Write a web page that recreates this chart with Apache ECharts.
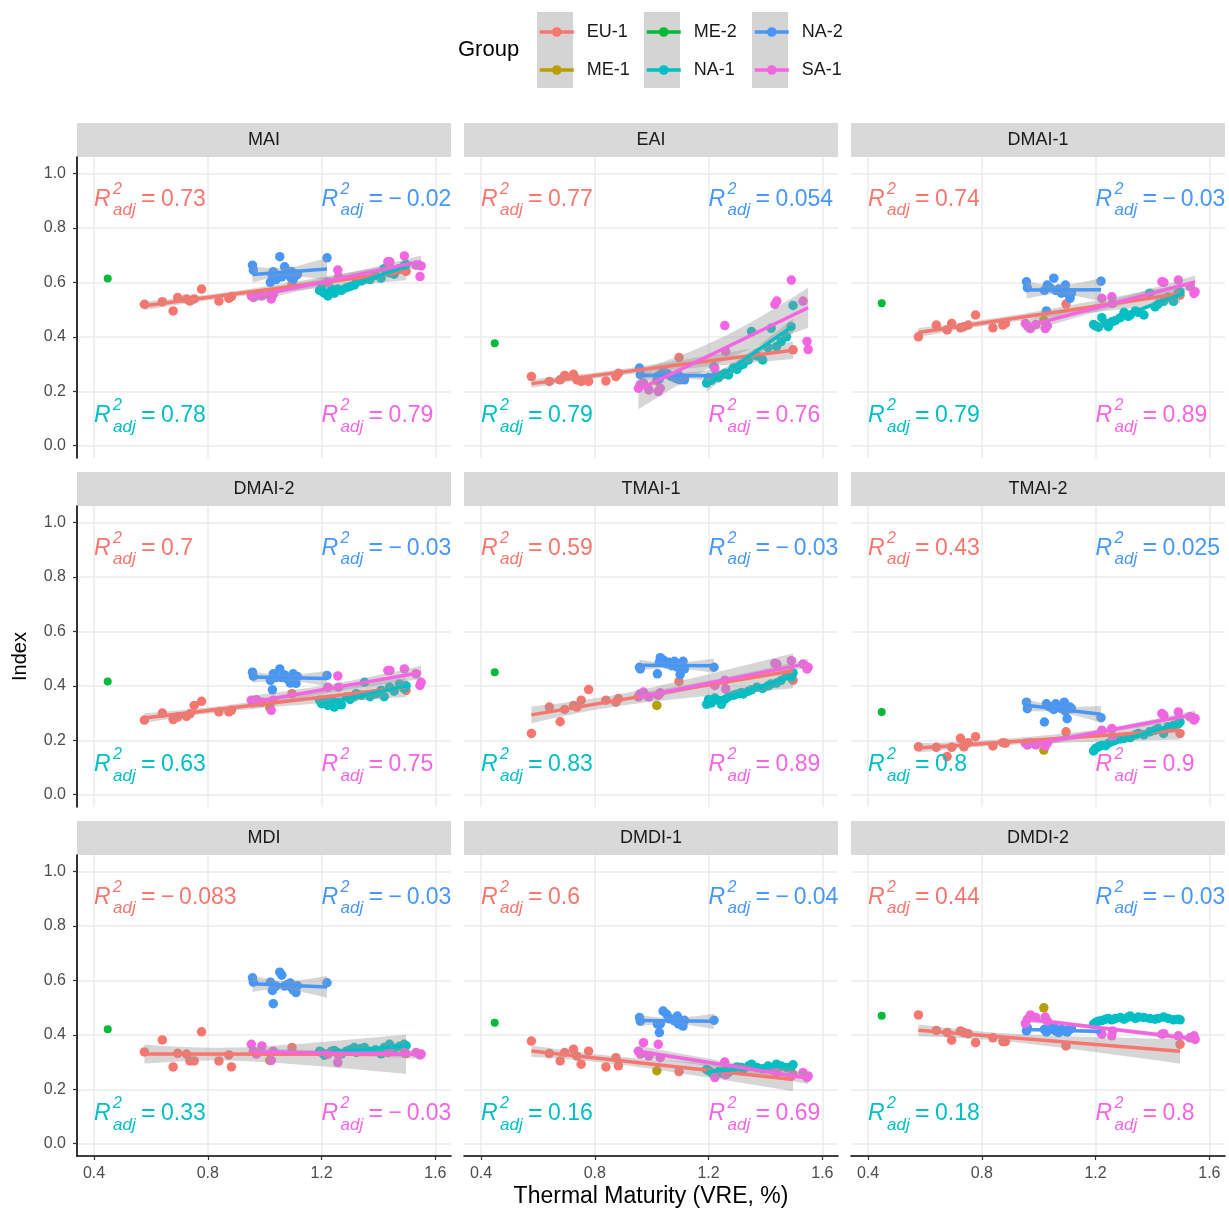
<!DOCTYPE html>
<html><head><meta charset="utf-8">
<script src="https://cdn.jsdelivr.net/npm/echarts@6/dist/echarts.min.js"></script>
<style>html,body{margin:0;padding:0;background:#fff}#c{width:1229px;height:1213px}</style>
</head><body><div id="c"></div>
<script>
// ---------------- DATA ----------------
const panels = ['MAI','EAI','DMAI-1','DMAI-2','TMAI-1','TMAI-2','MDI','DMDI-1','DMDI-2'];
const groups = ['EU-1','ME-1','ME-2','NA-1','NA-2','SA-1'];
const xTicks = [0.4,0.8,1.2,1.6];
const yTicks = [0,0.2,0.4,0.6,0.8,1.0];

const euX = [0.577,0.64,0.678,0.694,0.725,0.737,0.752,0.778,0.839,0.874,0.883,1.096,1.497];
const euY = [
 [0.519,0.529,0.495,0.544,0.539,0.531,0.539,0.575,0.531,0.541,0.547,0.595,0.64],
 [0.254,0.236,0.242,0.258,0.262,0.242,0.236,0.236,0.238,0.254,0.266,0.324,0.352],
 [0.40,0.443,0.425,0.449,0.433,0.437,0.443,0.48,0.433,0.443,0.449,0.52,0.553],
 [0.274,0.30,0.276,0.285,0.288,0.297,0.328,0.343,0.304,0.304,0.31,0.371,0.383],
 [0.225,0.322,0.268,0.313,0.328,0.322,0.347,0.386,0.347,0.34,0.353,0.416,0.42],
 [0.176,0.174,0.14,0.174,0.207,0.176,0.191,0.213,0.179,0.191,0.189,0.231,0.225],
 [0.337,0.381,0.282,0.332,0.329,0.304,0.304,0.411,0.304,0.326,0.282,0.353,0.331],
 [0.377,0.331,0.304,0.335,0.347,0.322,0.292,0.34,0.282,0.316,0.286,0.265,0.255],
 [0.473,0.416,0.408,0.38,0.414,0.408,0.404,0.371,0.389,0.375,0.375,0.359,0.365]
];
const me1X = [1.018];
const me1Y = [0.553,0.24,0.46,0.32,0.328,0.164,0.306,0.268,0.499];
const me2X = [0.448];
const me2Y = [0.614,0.376,0.523,0.416,0.45,0.304,0.42,0.444,0.47];

const na1X = [1.193,1.20,1.21,1.222,1.235,1.245,1.257,1.27,1.287,1.30,1.315,1.322,1.34,1.351,1.37,1.39,1.409,1.42,1.439,1.455,1.474,1.49,1.497];
const na1Y = [
 [0.57,0.58,0.56,0.55,0.575,0.56,0.575,0.57,0.58,0.585,0.59,0.60,0.605,0.61,0.61,0.625,0.615,0.65,0.635,0.63,0.65,0.66,0.665],
 [0.23,0.25,0.24,0.255,0.25,0.26,0.266,0.26,0.285,0.28,0.297,0.30,0.315,0.419,0.33,0.315,0.36,0.431,0.364,0.382,0.40,0.437,0.515],
 [0.445,0.44,0.435,0.47,0.45,0.437,0.455,0.46,0.47,0.49,0.475,0.48,0.495,0.49,0.48,0.56,0.51,0.52,0.53,0.545,0.53,0.56,0.565],
 [0.347,0.334,0.34,0.328,0.35,0.322,0.34,0.33,0.359,0.35,0.36,0.371,0.365,0.413,0.36,0.37,0.383,0.36,0.395,0.38,0.407,0.39,0.40],
 [0.332,0.35,0.337,0.355,0.347,0.332,0.35,0.36,0.365,0.37,0.375,0.37,0.38,0.385,0.395,0.39,0.40,0.407,0.41,0.42,0.438,0.43,0.447],
 [0.161,0.17,0.176,0.182,0.18,0.189,0.195,0.20,0.205,0.207,0.213,0.21,0.22,0.225,0.22,0.231,0.237,0.243,0.225,0.25,0.255,0.26,0.267],
 [0.34,0.335,0.325,0.33,0.34,0.342,0.335,0.33,0.34,0.345,0.353,0.335,0.35,0.353,0.34,0.345,0.33,0.353,0.365,0.35,0.358,0.365,0.36],
 [0.273,0.268,0.262,0.255,0.265,0.26,0.27,0.262,0.275,0.282,0.28,0.273,0.285,0.292,0.28,0.275,0.285,0.28,0.292,0.285,0.28,0.282,0.29],
 [0.439,0.445,0.45,0.452,0.457,0.46,0.455,0.46,0.463,0.457,0.465,0.469,0.46,0.465,0.463,0.46,0.457,0.46,0.465,0.46,0.455,0.457,0.455]
];
const na2X = [0.957,0.96,1.02,1.027,1.03,1.04,1.053,1.06,1.07,1.08,1.09,1.094,1.10,1.11,1.115,1.219];
const na2Y = [
 [0.663,0.645,0.60,0.62,0.639,0.61,0.694,0.62,0.657,0.63,0.62,0.64,0.61,0.625,0.63,0.69],
 [0.285,0.261,0.254,0.245,0.26,0.272,0.265,0.26,0.254,0.25,0.245,0.26,0.242,0.248,0.242,0.29],
 [0.602,0.58,0.57,0.495,0.59,0.58,0.615,0.57,0.575,0.56,0.565,0.59,0.56,0.541,0.56,0.604],
 [0.45,0.435,0.42,0.385,0.444,0.43,0.462,0.43,0.44,0.425,0.41,0.42,0.444,0.409,0.434,0.438],
 [0.468,0.462,0.444,0.486,0.503,0.495,0.48,0.486,0.474,0.49,0.468,0.48,0.441,0.49,0.462,0.468],
 [0.34,0.316,0.267,0.334,0.328,0.322,0.313,0.334,0.322,0.316,0.34,0.307,0.279,0.322,0.316,0.283],
 [0.609,0.593,0.593,0.563,0.514,0.579,0.63,0.619,0.579,0.585,0.59,0.575,0.565,0.555,0.58,0.591],
 [0.463,0.45,0.439,0.408,0.44,0.487,0.475,0.46,0.457,0.451,0.469,0.44,0.439,0.432,0.453,0.453],
 [0.414,0.425,0.42,0.41,0.414,0.42,0.43,0.414,0.408,0.42,0.414,0.416,0.41,0.42,0.425,0.408]
];
const sa1X = [0.953,0.96,0.971,0.99,1.023,1.03,1.222,1.257,1.26,1.433,1.44,1.491,1.532,1.546,1.55];
const sa1Y = [
 [0.55,0.545,0.553,0.55,0.539,0.555,0.60,0.645,0.62,0.675,0.675,0.697,0.663,0.621,0.66],
 [0.211,0.224,0.230,0.205,0.199,0.211,0.285,0.441,0.346,0.519,0.531,0.608,0.531,0.383,0.353],
 [0.449,0.44,0.43,0.445,0.43,0.44,0.541,0.547,0.523,0.602,0.60,0.608,0.584,0.559,0.565],
 [0.347,0.34,0.349,0.34,0.31,0.347,0.395,0.436,0.395,0.456,0.456,0.462,0.444,0.401,0.413],
 [0.359,0.371,0.377,0.359,0.365,0.374,0.401,0.42,0.389,0.482,0.48,0.492,0.48,0.462,0.468],
 [0.189,0.183,0.191,0.183,0.179,0.189,0.237,0.243,0.213,0.298,0.292,0.304,0.286,0.274,0.28],
 [0.365,0.34,0.329,0.359,0.306,0.34,0.329,0.298,0.324,0.335,0.34,0.335,0.335,0.326,0.329],
 [0.34,0.329,0.371,0.322,0.365,0.316,0.243,0.3,0.253,0.268,0.26,0.249,0.261,0.243,0.249],
 [0.441,0.457,0.473,0.463,0.465,0.451,0.402,0.396,0.414,0.402,0.404,0.396,0.389,0.396,0.383]
];
// adjusted R² labels per panel
const r2EU1 = ['0.73','0.77','0.74','0.7','0.59','0.43','\u22120.083','0.6','0.44'];
const r2NA2 = ['\u22120.02','0.054','\u22120.03','\u22120.03','\u22120.03','0.025','\u22120.03','\u22120.04','\u22120.03'];
const r2NA1 = ['0.78','0.79','0.79','0.63','0.83','0.8','0.33','0.16','0.18'];
const r2SA1 = ['0.79','0.76','0.89','0.75','0.89','0.9','\u22120.03','0.69','0.8'];

// ---------------- STYLE / LAYOUT ----------------
const colors = {'EU-1':'#F8766D','ME-1':'#B79F00','ME-2':'#00BA38','NA-1':'#00BFC4','NA-2':'#4697F8','SA-1':'#F564E3'};
const FONT = '"Liberation Sans", Arial, sans-serif';
const colLeft = [77, 464, 851];
const panelW = 374;
const rowTop = [157, 506, 855];
const panelH = 301;
const stripH = 34;
const X_MIN = 0.34, X_MAX = 1.655, Y_MIN = -0.045, Y_MAX = 1.06;
const annoPos = [[0.4,0.905],[1.2,0.905],[0.4,0.11],[1.2,0.11]]; // EU-1, NA-2, NA-1, SA-1

const groupData = {
  'EU-1': {x: euX, y: euY},
  'ME-1': {x: me1X, y: me1Y.map(v=>[v])},
  'ME-2': {x: me2X, y: me2Y.map(v=>[v])},
  'NA-1': {x: na1X, y: na1Y},
  'NA-2': {x: na2X, y: na2Y},
  'SA-1': {x: sa1X, y: sa1Y}
};
const fitGroups = ['EU-1','NA-1','NA-2','SA-1'];

function tq(df){ return 1.96 + 2.37/df + 2.8/(df*df); }
function lmFit(xs, ys){
  const n = xs.length;
  const mx = xs.reduce((a,b)=>a+b,0)/n, my = ys.reduce((a,b)=>a+b,0)/n;
  let sxx=0, sxy=0;
  for(let i=0;i<n;i++){ sxx+=(xs[i]-mx)**2; sxy+=(xs[i]-mx)*(ys[i]-my); }
  const b = sxy/sxx, a = my - b*mx;
  let sse=0; for(let i=0;i<n;i++){ sse+=(ys[i]-a-b*xs[i])**2; }
  const s = Math.sqrt(sse/(n-2));
  const xmin = Math.min(...xs), xmax = Math.max(...xs);
  const t = tq(n-2);
  const band = [];
  const N = 40;
  for(let k=0;k<=N;k++){
    const x = xmin + (xmax-xmin)*k/N;
    const f = a + b*x;
    const se = s*Math.sqrt(1/n + (x-mx)**2/sxx);
    band.push([x, f - t*se, f + t*se]);
  }
  return {line: [[xmin, a+b*xmin],[xmax, a+b*xmax]], band};
}

const grids=[], xAxes=[], yAxes=[], series=[], graphics=[];

// legend series first (empty; they only supply legend glyphs)
groups.forEach(g=>{
  series.push({type:'line', name:g, data:[], xAxisIndex:0, yAxisIndex:0,
    symbol:'circle', symbolSize:9, itemStyle:{color:colors[g]}, lineStyle:{color:colors[g], width:3.5}});
});

panels.forEach((p, i)=>{
  const r = Math.floor(i/3), c = i%3;
  grids.push({left: colLeft[c], top: rowTop[r], width: panelW, height: panelH, containLabel:false});
  const bottomRow = r===2, leftCol = c===0;
  xAxes.push({type:'value', gridIndex:i, min:X_MIN, max:X_MAX,
    axisLine:{show:bottomRow, onZero:false, lineStyle:{color:'#000', width:1.6}},
    axisTick:{show:bottomRow, customValues:xTicks, length:4, lineStyle:{color:'#333', width:1.2}},
    axisLabel:{show:bottomRow, customValues:xTicks, margin:10, color:'#4D4D4D', fontSize:16, fontFamily:FONT,
      formatter:v=>v.toFixed(1)},
    splitLine:{show:true, lineStyle:{color:'#EBEBEB', width:1.5}},
    name: i===7 ? 'Thermal Maturity (VRE, %)' : '', nameLocation:'middle', nameGap:29,
    nameTextStyle:{fontSize:23, color:'#000', fontFamily:FONT}
  });
  yAxes.push({type:'value', gridIndex:i, min:Y_MIN, max:Y_MAX,
    axisLine:{show:leftCol, onZero:false, lineStyle:{color:'#000', width:1.6}},
    axisTick:{show:leftCol, customValues:yTicks, length:4, lineStyle:{color:'#333', width:1.2}},
    axisLabel:{show:leftCol, customValues:yTicks, margin:11, color:'#4D4D4D', fontSize:16, fontFamily:FONT,
      formatter:v=>v.toFixed(1)},
    splitLine:{show:true, lineStyle:{color:'#EBEBEB', width:1.5}},
    name: i===3 ? 'Index' : '', nameLocation:'middle', nameGap:47,
    nameTextStyle:{fontSize:20, color:'#000', fontFamily:FONT}
  });
  // strip
  graphics.push({type:'rect', left: colLeft[c], top: rowTop[r]-stripH, shape:{width:panelW, height:stripH},
    style:{fill:'#D9D9D9'}, silent:true});
  graphics.push({type:'text', x: colLeft[c]+panelW/2, y: rowTop[r]-stripH/2, silent:true,
    style:{text:p, fill:'#1A1A1A', font:'18px '+FONT, align:'center', verticalAlign:'middle', textAlign:'center', textVerticalAlign:'middle'}});

  // points
  groups.forEach(g=>{
    const gd = groupData[g];
    const ys = gd.y[i];
    series.push({type:'scatter', name:g, xAxisIndex:i, yAxisIndex:i, symbolSize: g==='ME-2'?8:9.5,
      itemStyle:{color:colors[g], opacity:1}, data: gd.x.map((x,k)=>[x, ys[k]]), z:2, silent:true});
  });
  // smooths
  fitGroups.forEach(g=>{
    const gd = groupData[g];
    const f = lmFit(gd.x, gd.y[i]);
    series.push({type:'custom', name:g+'-band', xAxisIndex:i, yAxisIndex:i, z:3, silent:true,
      data: f.band,
      renderItem: (params, api)=>{
        if(params.dataIndex!==0) return null;
        const up = f.band.map(d=>api.coord([d[0], d[2]]));
        const lo = f.band.map(d=>api.coord([d[0], d[1]])).reverse();
        return {type:'polygon', shape:{points: up.concat(lo)}, style:{fill:'rgba(153,153,153,0.4)'}};
      }});
    series.push({type:'line', name:g+'-fit', xAxisIndex:i, yAxisIndex:i, z:3, silent:true,
      data: f.line, symbol:'none', lineStyle:{color:colors[g], width:3.5}, animation:false});
  });
  // annotations
  const labels = [[r2EU1[i],'EU-1'],[r2NA2[i],'NA-2'],[r2NA1[i],'NA-1'],[r2SA1[i],'SA-1']];
  series.push({type:'custom', name:'anno', xAxisIndex:i, yAxisIndex:i, z:6, silent:true, clip:false,
    data: annoPos,
    renderItem:(params, api)=>{
      const pt = api.coord([api.value(0), api.value(1)]);
      const [txt, g] = labels[params.dataIndex];
      const col = colors[g];
      const base = {fill: col, align:'left', verticalAlign:'middle', textAlign:'left', textVerticalAlign:'middle'};
      return {type:'group', children:[
        {type:'text', x:pt[0], y:pt[1], style:Object.assign({text:'R', font:'italic 23px '+FONT}, base)},
        {type:'text', x:pt[0]+19, y:pt[1]-10, style:Object.assign({text:'2', font:'italic 16px '+FONT}, base)},
        {type:'text', x:pt[0]+19, y:pt[1]+11, style:Object.assign({text:'adj', font:'italic 17px '+FONT}, base)},
        {type:'text', x:pt[0]+47, y:pt[1], style:Object.assign({text:'=', font:'25px '+FONT}, base)},
        {type:'text', x:pt[0]+67, y:pt[1], style:Object.assign({text:txt.replace('\u2212','\u2212\u2009'), font:'23px '+FONT}, base)}
      ]};
    }});
});

// legend key backgrounds and title
const legendCols = [[537,'EU-1','ME-1'],[644,'ME-2','NA-1'],[752,'NA-2','SA-1']];
graphics.push({type:'text', x:458, y:50, silent:true,
  style:{text:'Group', font:'22px '+FONT, fill:'#000', align:'left', verticalAlign:'middle', textVerticalAlign:'middle'}});
legendCols.forEach(lc=>{
  graphics.push({type:'rect', left: lc[0], top: 12, shape:{width:36, height:76}, style:{fill:'#D4D4D4'}, silent:true, z:-1});
});
const legends = legendCols.map(lc=>({
  data: [lc[1], lc[2]], orient:'vertical', left: lc[0]+1, top: 23, padding:0,
  itemWidth:34, itemHeight:12, itemGap:20, selectedMode:false,
  lineStyle:{width:3.5},
  textStyle:{fontSize:18, color:'#1A1A1A', fontFamily:FONT, padding:[0,0,0,8]}
}));

const chart = echarts.init(document.getElementById('c'), null, {renderer:'canvas'});
chart.setOption({
  animation:false,
  backgroundColor:'#fff',
  grid: grids, xAxis: xAxes, yAxis: yAxes, series: series,
  legend: legends,
  graphic: graphics
});
</script></body></html>
